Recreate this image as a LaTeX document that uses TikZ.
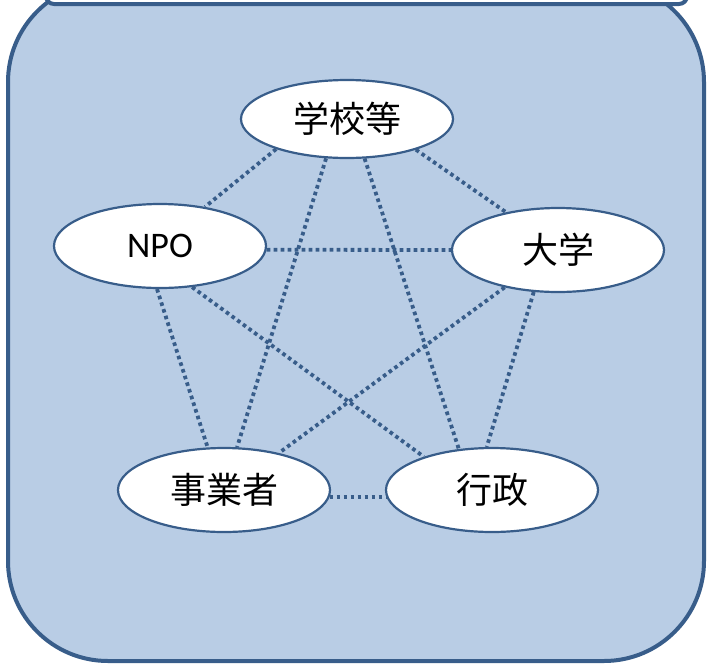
\documentclass[tikz,border=0pt]{standalone}
\usepackage{fontspec}
\setmainfont{Carlito}
\newfontfamily\cjk{Noto Sans CJK JP}
\usetikzlibrary{shapes.geometric}

\definecolor{panelfill}{HTML}{B9CDE5}
\definecolor{panelline}{HTML}{385D8A}

\begin{document}
\begin{tikzpicture}[x=1pt,y=-1pt,
		party/.style={ellipse,draw=panelline,line width=2.2pt,fill=white,
			minimum width=212pt,minimum height=84pt,inner sep=0pt,
			font=\fontsize{36}{40}\selectfont},
		link/.style={draw=panelline,line width=3.8pt,dash pattern=on 3.6pt off 3.4pt}]
		\useasboundingbox (0,0) rectangle (707,665);
		% panel and top bar
		\draw[panelline,fill=panelfill,line width=4pt,rounded corners=100pt] (8,-18) rectangle (704,661);
		\draw[panelline,fill=white,line width=4pt,rounded corners=8pt] (46,-30) rectangle (687,4);
		% partners
		\node[party,minimum height=78pt] (school) at (347,119) {\cjk 学校等};
		\node[party] (npo) at (160,246) {NPO};
		\node[party] (univ) at (558,250) {\cjk 大学};
		\node[party] (firm) at (224,490) {\cjk 事業者};
		\node[party] (gov) at (492,490) {\cjk 行政};
		% links
		\draw[link] (school.203) -- (npo.41);
		\draw[link] (school.336) -- (univ.144);
		\draw[link] (school.242) -- (firm.73);
		\draw[link] (school.294) -- (gov.129);
		\draw[link] (npo.-2) -- (univ.west);
		\draw[link] (npo.266) -- (firm.111);
		\draw[link] (npo.308) -- (gov.154);
		\draw[link] (univ.215) -- (firm.34);
		\draw[link] (univ.240) -- (gov.97);
		\draw[link] (firm.-4) -- (gov.184);
	\end{tikzpicture}
\end{document}
